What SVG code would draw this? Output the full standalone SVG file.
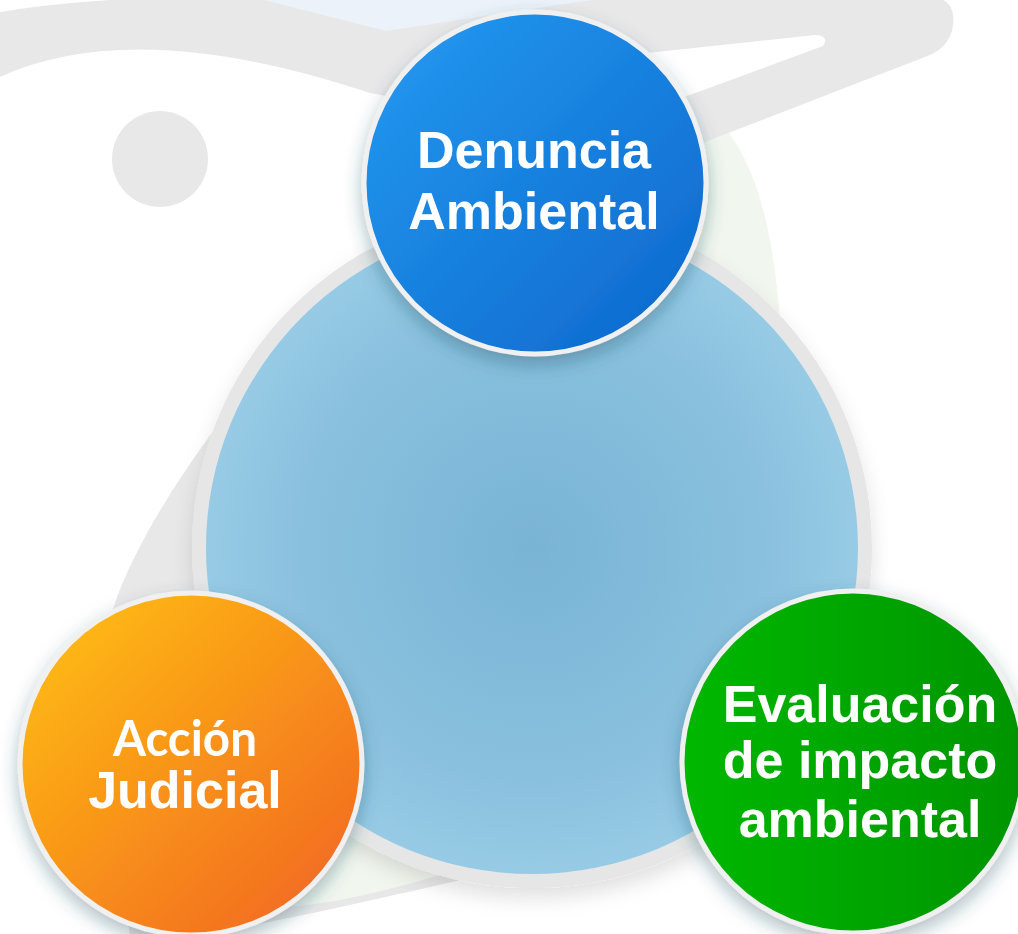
<svg xmlns="http://www.w3.org/2000/svg" width="1018" height="934" viewBox="0 0 1018 934">
<defs>
<style>
.bg-grey{fill:#E9E8E9;}
.bg-green{fill:#F1F7EF;}
.label{font-family:"Liberation Sans",Arial,sans-serif;font-weight:bold;font-size:52px;fill:#FFFFFF;text-anchor:middle;}
.label-alt{font-family:Lato,"Liberation Sans",sans-serif;font-weight:bold;font-size:49px;fill:#FFFFFF;text-anchor:middle;}
.rim{stroke:#F0F0F0;stroke-width:5;}
</style>
<radialGradient id="hubGrad" cx="532" cy="548" r="326" gradientUnits="userSpaceOnUse">
<stop offset="0" stop-color="#79B4D5"/>
<stop offset="0.7" stop-color="#89C0DE"/>
<stop offset="1" stop-color="#97CBE5"/>
</radialGradient>
<linearGradient id="blueGrad" x1="0" y1="0" x2="1" y2="1">
<stop offset="0" stop-color="#249BF2"/>
<stop offset="1" stop-color="#0C66CB"/>
</linearGradient>
<linearGradient id="orangeGrad" x1="0.1" y1="0.1" x2="0.9" y2="0.95">
<stop offset="0" stop-color="#FEBA12"/>
<stop offset="1" stop-color="#F26822"/>
</linearGradient>
<linearGradient id="greenGrad" x1="0" y1="0" x2="1" y2="0">
<stop offset="0" stop-color="#02B802"/>
<stop offset="1" stop-color="#039404"/>
</linearGradient>
<filter id="shadow" x="-20%" y="-20%" width="140%" height="150%">
<feDropShadow dx="0" dy="8" stdDeviation="9" flood-color="#24475a" flood-opacity="0.35"/>
</filter>
<filter id="hubShadow" x="-20%" y="-20%" width="140%" height="150%">
<feDropShadow dx="0" dy="10" stdDeviation="10" flood-color="#000000" flood-opacity="0.12"/>
</filter>
</defs>
<rect width="1018" height="934" fill="#FFFFFF"/>
<g id="background">
<path class="bg-green" d="M 680 100 Q 765 120 780 320 L 790 460 L 600 420 Z"/>
<path class="bg-grey" d="M 310 315 C 230 400 150 510 117 597 C 95 660 100 760 130 934 L 200 934 C 290 920 380 898 470 878 L 470 600 L 420 330 Z"/>
<path class="bg-green" d="M 340 330 C 260 420 205 530 198 620 L 230 905 C 300 914 370 896 470 866 L 470 600 L 430 350 Z"/>
<path class="bg-grey" d="M 0 12 Q 110 -6 256 -2 L 600 -2 L 935 -2 Q 956 0 953 26 Q 950 46 930 55 L 705 142 L 600 200 L 420 110 Q 395 96 370 93 Q 135 15 0 77 Z"/>
<path fill="#EBF2FA" d="M 256 -2 L 386 31 L 605 -2 Z"/>
<path fill="#FFFFFF" d="M 600 58 L 815 35 Q 830 36 823 46 L 690 95 L 600 118 Z"/>
<circle cx="160" cy="159" r="48" class="bg-grey"/>
</g>
<g id="connectors"/>
<g id="hub" filter="url(#hubShadow)">
<circle cx="532" cy="548" r="333" fill="none" stroke="#E6E6E6" stroke-width="14"/>
<circle cx="532" cy="548" r="326" fill="url(#hubGrad)"/>
</g>
<g id="node-denuncia" filter="url(#shadow)">
<circle cx="535" cy="183" r="171" fill="url(#blueGrad)" class="rim"/>
<text class="label" x="534" y="168">Denuncia</text>
<text class="label" x="534" y="229">Ambiental</text>
</g>
<g id="node-accion" filter="url(#shadow)">
<circle cx="191" cy="764" r="171" fill="url(#orangeGrad)" class="rim"/>
<text class="label-alt" x="185" y="756" textLength="144" lengthAdjust="spacingAndGlyphs">Acción</text>
<text class="label" x="185" y="808">Judicial</text>
</g>
<g id="node-evaluacion" filter="url(#shadow)">
<circle cx="853" cy="762" r="171" fill="url(#greenGrad)" class="rim"/>
<text class="label" x="860" y="722">Evaluación</text>
<text class="label" x="860" y="778">de impacto</text>
<text class="label" x="860" y="837">ambiental</text>
</g>
</svg>
